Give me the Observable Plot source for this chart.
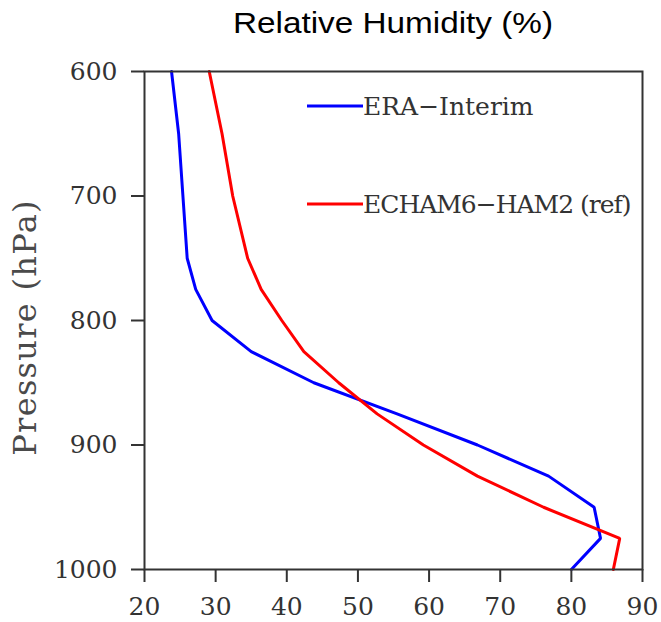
<!DOCTYPE html>
<html>
<head>
<meta charset="utf-8">
<script src="https://cdn.jsdelivr.net/npm/d3@7"></script>
<script src="https://cdn.jsdelivr.net/npm/@observablehq/plot@0.6"></script>
<style>
  html, body { margin: 0; padding: 0; background: #fff; }
  #wrap { position: relative; width: 661px; height: 622px; overflow: hidden; }
  #title { position: relative; height: 48px; width: 661px; }
  #title span {
    position: absolute; left: 144px; width: 498px; top: 8px; text-align: center;
    font-family: "Liberation Sans", Arial, sans-serif; font-size: 30px; line-height: 30px;
    color: #000; transform: scaleX(1.11); transform-origin: center;
  }
  #legend { position: absolute; left: 0; top: 0; pointer-events: none; }
</style>
</head>
<body>
<div id="wrap">
  <div id="title"><span>Relative Humidity (%)</span></div>
  <div id="chart"></div>
  <svg id="legend" width="661" height="622"></svg>
</div>
<script>
// Pressure levels (hPa)
const levels = [600, 650, 700, 750, 775, 800, 825, 850, 875, 900, 925, 950, 975, 1000];
// Relative humidity (%) per level
const eraInterim = [23.8, 24.8, 25.4, 26.0, 27.2, 29.5, 35.0, 43.8, 55.5, 66.8, 76.8, 83.2, 84.1, 80.0];
const echamHam2 = [29.1, 30.9, 32.4, 34.5, 36.4, 39.3, 42.4, 47.3, 52.7, 59.2, 66.8, 76.1, 86.8, 85.9];
const seriesNames = ["ERA\u2212Interim", "ECHAM6\u2212HAM2 (ref)"];
const seriesColors = ["#0000ff", "#ff0000"];
const xTicks = [20, 30, 40, 50, 60, 70, 80, 90];
const yTicks = [600, 700, 800, 900, 1000];
const yLabel = "Pressure (hPa)";

const rows = [];
levels.forEach((p, i) => {
  rows.push({series: seriesNames[0], p, rh: eraInterim[i]});
  rows.push({series: seriesNames[1], p, rh: echamHam2[i]});
});

const serif = "'DejaVu Serif', serif";

const chart = Plot.plot({
  width: 661,
  height: 574,
  marginTop: 23,
  marginBottom: 53,
  marginLeft: 144,
  marginRight: 19,
  style: {fontFamily: serif, background: "#fff"},
  x: {domain: [20, 90], ticks: xTicks},
  y: {domain: [600, 1000], reverse: true, ticks: yTicks},
  color: {domain: seriesNames, range: seriesColors},
  marks: [
    Plot.line(rows, {x: "rh", y: "p", z: "series", stroke: "series", strokeWidth: 3, strokeLinejoin: "miter"}),
    Plot.frame({stroke: "#333", strokeWidth: 2}),
    Plot.axisX({ticks: xTicks, tickSize: 13, tickPadding: 15, fontSize: 25, color: "#333", strokeWidth: 2, label: null, tickFormat: d => String(d)}),
    Plot.axisY({ticks: yTicks, tickSize: 13, tickPadding: 14, fontSize: 25, color: "#333", strokeWidth: 2, label: null, tickFormat: d => String(d)}),
    Plot.text([yLabel], {frameAnchor: "left", textAnchor: "middle", lineAnchor: "middle", rotate: -90, dx: -119, dy: 7, fontSize: 32, fill: "#4a4a4a", fontFamily: serif})
  ]
});
d3.select(chart).selectAll("text").filter(function() { return this.textContent === yLabel; })
  .attr("letter-spacing", 1.3);
document.getElementById("chart").appendChild(chart);

// Legend overlay
const leg = d3.select("#legend");
const legY = [106, 204];
const legSpacing = [0, -1];
seriesNames.forEach((name, i) => {
  leg.append("line").attr("x1", 307).attr("x2", 363).attr("y1", legY[i]).attr("y2", legY[i])
    .attr("stroke", seriesColors[i]).attr("stroke-width", 3);
  leg.append("text").attr("x", 363).attr("y", legY[i]).attr("dy", "0.36em")
    .attr("font-family", "DejaVu Serif, serif").attr("font-size", 25).attr("fill", "#333")
    .attr("letter-spacing", legSpacing[i])
    .text(name);
});
</script>
</body>
</html>
